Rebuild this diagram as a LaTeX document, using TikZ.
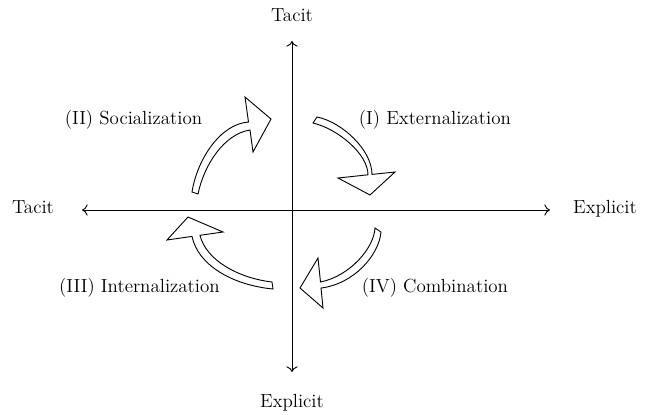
\documentclass[tikz,border=0pt]{standalone}
\usepackage{xcolor}
\usepackage{tikz}
\usetikzlibrary{arrows.meta, positioning, calc}

\tikzset{
	lbl/.style={anchor=base, font=\fontsize{13.5}{16}\selectfont, inner sep=0pt},
	axis/.style={line width=0.65pt, {To[length=4pt,width=8pt]}-{To[length=4pt,width=8pt]}},
	fatarrow/.style={line width=0.65pt, fill=white, line join=miter}
}

\begin{document}
\begin{tikzpicture}[x=0.25cm, y=0.25cm]
				\useasboundingbox (-29.2,-20.4) rectangle (35.7,21);

				\coordinate (W) at (-21,0);
				\coordinate (E) at (25.8,0);
				\coordinate (N) at (0,16.9);
				\coordinate (S) at (0,-16.2);

				\draw [axis] (W) -- (E);
				\draw [axis] (S) -- (N);

				\node [lbl] (tacitN) at (0,18.9) {Tacit};
				\node [lbl] (explicitS) at (0,-19.7) {Explicit};
				\node [lbl] (tacitW) at (-25.9,-0.3) {Tacit};
				\node [lbl] (explicitE) at (31.3,-0.3) {Explicit};

				\node [lbl] (socialization) at (-15.85,8.6) {(II) Socialization};
				\node [lbl] (externalization) at (14.3,8.6) {(I) Externalization};
				\node [lbl] (internalization) at (-15.25,-8.2) {(III) Internalization};
				\node [lbl] (combination) at (14.3,-8.2) {(IV) Combination};

				% (I)
				\draw [fatarrow] (2.5,9.3) .. controls (5,8.8) and (8.0,6.0) .. (8.0,3.56)
					-- (10.3,3.8) -- (7.8,1.5) -- (4.6,3.2) -- (7.6,3.52)
					.. controls (7.6,5.6) and (4.6,8.1) .. (2.1,8.7) -- cycle;

				% (II)
				\draw [fatarrow] (-10,1.8) .. controls (-9.5,5) and (-7.2,8.6) .. (-4.35,8.8)
					-- (-4.7,11.3) -- (-2.1,9.1) -- (-3.9,5.8) -- (-4.2,8.0)
					.. controls (-6.8,7.6) and (-8.8,4.5) .. (-9.4,1.6) -- cycle;

				% (III)
				\draw [fatarrow] (-2.0,-7.2) .. controls (-5.4,-6.8) and (-8.6,-5) .. (-9.2,-2.53)
					-- (-6.9,-2.2) -- (-10.4,-0.7) -- (-12.5,-3.0) -- (-10.0,-2.64)
					.. controls (-9.4,-5.5) and (-6,-7.5) .. (-1.9,-7.9) -- cycle;

				% (IV)
				\draw [fatarrow] (8.9,-2.2) .. controls (8.7,-4.5) and (6.2,-7.4) .. (2.9,-7.8)
					-- (3.1,-9.8) -- (0.8,-7.8) -- (2.6,-4.8) -- (2.85,-7.2)
					.. controls (5.8,-6.6) and (8.2,-3.8) .. (8.3,-1.8) -- cycle;
\end{tikzpicture}
\end{document}
